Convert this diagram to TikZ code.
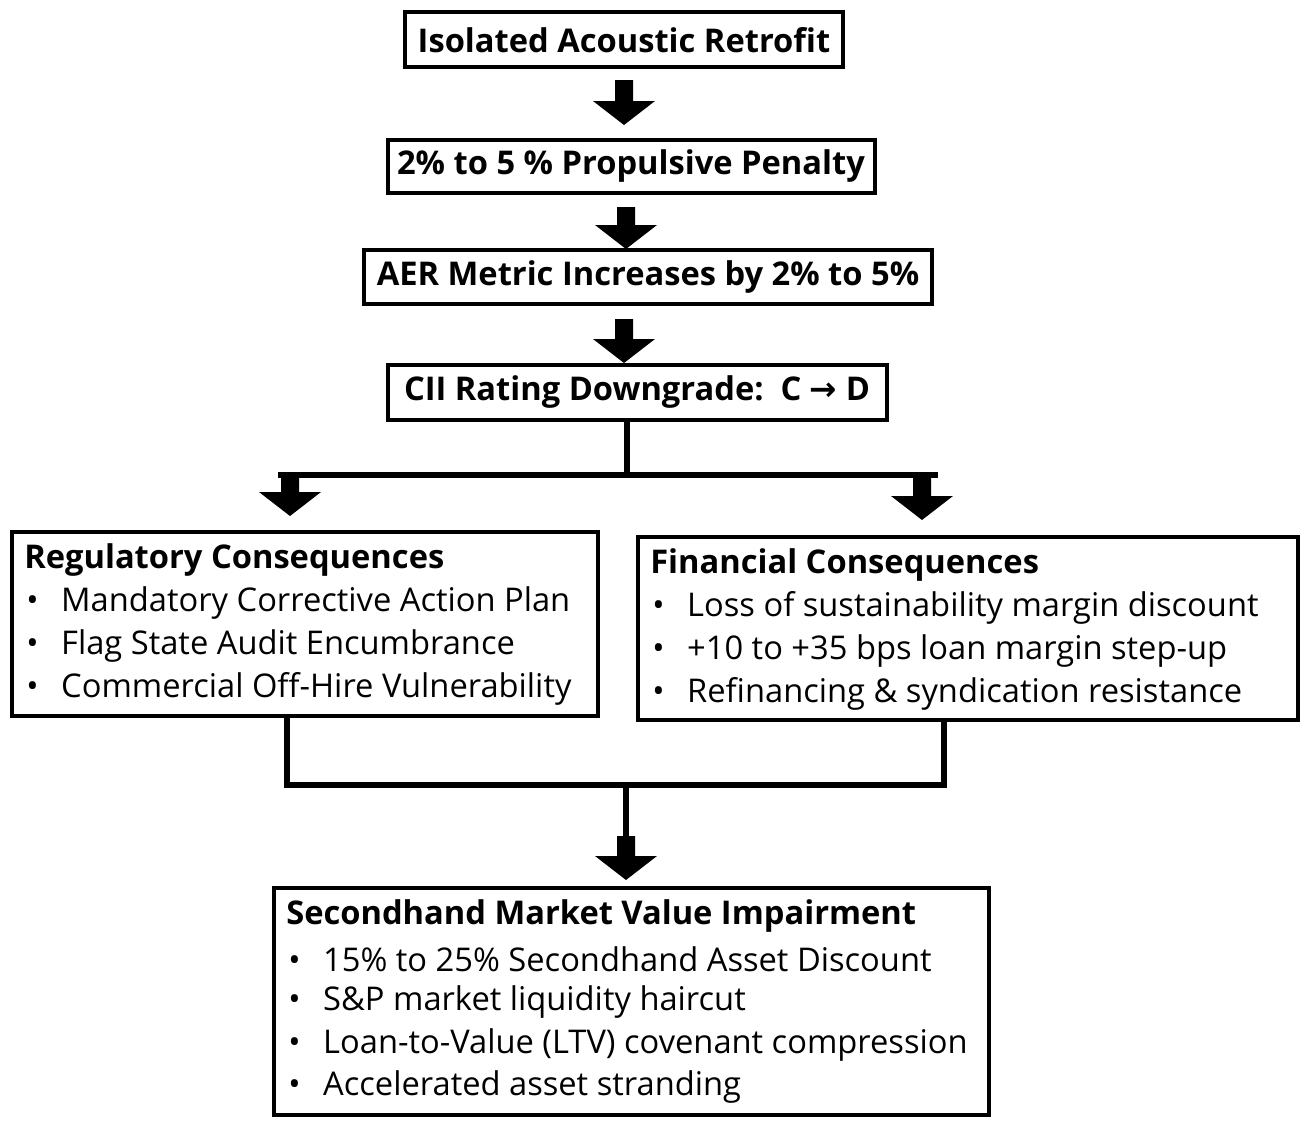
\documentclass[tikz,border=0pt]{standalone}
\usepackage{fontspec}
\setmainfont{Open Sans}
\newfontfamily\djv{DejaVu Sans}
\newcommand{\blkarrow}[3]{\fill (#1-9,#2) -- (#1+9,#2) -- (#1+9,#3-24) -- (#1+31,#3-24) -- (#1,#3) -- (#1-31,#3-24) -- (#1-9,#3-24) -- cycle;}
\begin{document}
\begin{tikzpicture}[x=0.75pt,y=-0.75pt,
  box/.style={draw,line width=2.4pt},
  ttl/.style={font=\fontsize{24.5}{28}\selectfont\bfseries},
  itm/.style={anchor=west,font=\fontsize{24.5}{28}\selectfont,inner sep=0pt},
  hd/.style={anchor=west,font=\fontsize{24.5}{28}\selectfont\bfseries,inner sep=0pt},
  conn/.style={line width=4.5pt}]
\useasboundingbox (0,0) rectangle (1311,1128);
\fill[white] (0,0) rectangle (1311,1128);
% top boxes
\draw[box] (405,12) rectangle (843,67); \node[ttl] (t1) at (624,40) {Isolated Acoustic Retrofit};
\draw[box] (388,140) rectangle (875,193); \node[ttl] (t2) at (631,166) {2\% to 5 \% Propulsive Penalty};
\draw[box] (364,250) rectangle (932,304); \node[ttl] (t3) at (648,277) {AER Metric Increases by 2\% to 5\%};
\draw[box] (388,365) rectangle (887,420); \node[ttl] (t4) at (637,392) {CII Rating Downgrade:\ \ C {\djv→} D};
\blkarrow{624}{80}{125}
\blkarrow{626}{207}{249}
\blkarrow{624}{319}{363}
% branch
\draw[conn] (627,420) -- (627,475);
\draw[conn] (278,475) -- (938,475);
\blkarrow{290}{472}{516}
\blkarrow{922}{472}{520}
% regulatory
\draw[box] (12,532) rectangle (598,716);
\node[hd] (r0) at (24,560) {Regulatory Consequences};
\node[itm] (r1) at (26,603) {•\hspace{17pt}Mandatory Corrective Action Plan};
\node[itm] (r2) at (26,646) {•\hspace{17pt}Flag State Audit Encumbrance};
\node[itm] (r3) at (26,689) {•\hspace{17pt}Commercial Off-Hire Vulnerability};
% financial
\draw[box] (638,537) rectangle (1298,720);
\node[hd] (f0) at (650,565) {Financial Consequences};
\node[itm] (f1) at (652,608) {•\hspace{17pt}Loss of sustainability margin discount};
\node[itm] (f2) at (652,651) {•\hspace{17pt}+10 to +35 bps loan margin step-up};
\node[itm] (f3) at (652,694) {•\hspace{17pt}Refinancing \& syndication resistance};
% merge
\draw[conn] (287,716) -- (287,785) -- (944,785) -- (944,720);
\draw[conn] (626,785) -- (626,840);
\blkarrow{626}{836}{880}
% bottom
\draw[box] (274,888) rectangle (989,1115);
\node[hd] (b0) at (286,916) {Secondhand Market Value Impairment};
\node[itm] (b1) at (288,959) {•\hspace{17pt}15\% to 25\% Secondhand Asset Discount};
\node[itm] (b2) at (288,1002) {•\hspace{17pt}S\&P market liquidity haircut};
\node[itm] (b3) at (288,1045) {•\hspace{17pt}Loan-to-Value (LTV) covenant compression};
\node[itm] (b4) at (288,1087) {•\hspace{17pt}Accelerated asset stranding};
\end{tikzpicture}
\end{document}
